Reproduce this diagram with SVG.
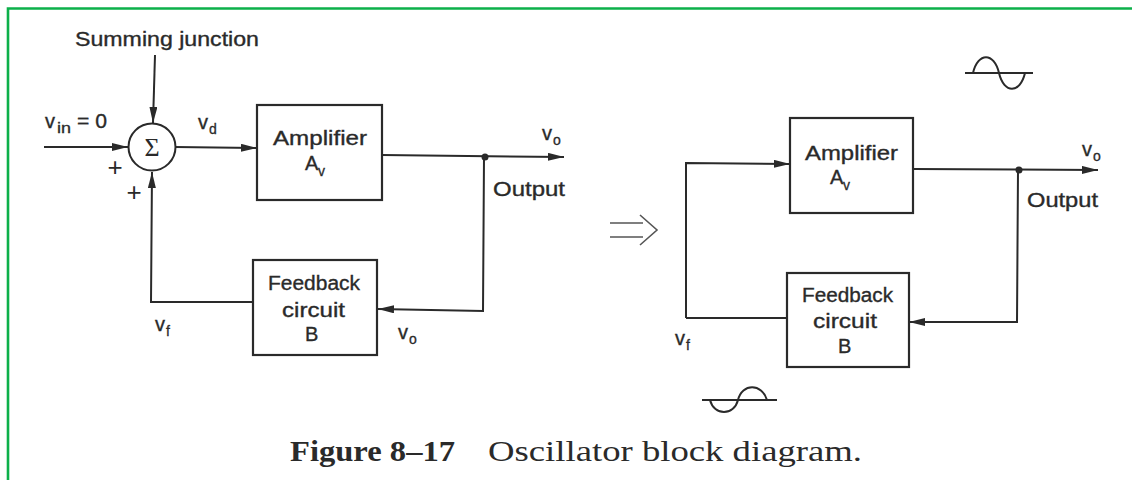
<svg xmlns="http://www.w3.org/2000/svg" width="1132" height="480" viewBox="0 0 1132 480">
<style>
.ln{fill:none;stroke:#2a2a2a;stroke-width:2;}
.bx{fill:none;stroke:#2a2a2a;stroke-width:2.2;}
.t{font-family:"Liberation Sans",Arial,sans-serif;font-size:20px;fill:#2a2a2a;stroke:#2a2a2a;stroke-width:0.35;}
.s{font-family:"Liberation Sans",Arial,sans-serif;font-size:14px;fill:#2a2a2a;stroke:#2a2a2a;stroke-width:0.3;}
.pl{font-family:"Liberation Sans",Arial,sans-serif;font-size:26px;fill:#2a2a2a;}
.cap{font-family:"Liberation Serif","Times New Roman",serif;font-size:30px;fill:#2a2a2a;}
.arw{stroke:#2a2a2a;stroke-width:2;fill:none;marker-end:url(#ah);}
</style>
<defs>
<marker id="ah" viewBox="0 0 16 8" refX="16" refY="4" markerWidth="16" markerHeight="8" markerUnits="userSpaceOnUse" orient="auto">
<path d="M0,0 L16,4 L0,8 Z" fill="#2a2a2a"/>
</marker>
</defs>
<rect x="0" y="0" width="1132" height="480" fill="#ffffff"/>
<path d="M8,480 L8,8.5 L1132,8.5" fill="none" stroke="#0cb04a" stroke-width="2.6"/>

<g id="connectors">
<line class="arw" x1="155" y1="55" x2="153" y2="123"/>
<line class="arw" x1="44" y1="147" x2="128" y2="147"/>
<line class="arw" x1="175" y1="147" x2="257" y2="148"/>
<line class="arw" x1="382" y1="155" x2="564" y2="157"/>
<polyline class="arw" points="484,157 483,311 378,309"/>
<polyline class="arw" points="253,302 151,302 152,172"/>
<polyline class="arw" points="686,318 686,163 790,164"/>
<line class="arw" x1="913" y1="169" x2="1098" y2="170"/>
<polyline class="arw" points="1018,170 1017,322 909,322"/>
<line class="ln" x1="686" y1="318" x2="787" y2="318"/>
</g>

<g id="sum">
<circle cx="152" cy="147" r="23.5" class="ln" stroke-width="2.2"/>
<text x="152" y="156" text-anchor="middle" font-family="Liberation Serif,serif" font-size="26" fill="#2a2a2a">Σ</text>
</g>
<g id="amp1">
<rect class="bx" x="257" y="105" width="125" height="95"/>
<text class="t" x="273" y="145" textLength="94" lengthAdjust="spacingAndGlyphs">Amplifier</text>
<text class="t" x="305" y="170">A</text><text class="s" x="318" y="176">v</text>
</g>
<g id="fb1">
<rect class="bx" x="253" y="260" width="124" height="95"/>
<text class="t" x="268" y="290" textLength="92" lengthAdjust="spacingAndGlyphs">Feedback</text>
<text class="t" x="282" y="317" textLength="63" lengthAdjust="spacingAndGlyphs">circuit</text>
<text class="t" x="305" y="341">B</text>
</g>
<g id="amp2">
<rect class="bx" x="790" y="118" width="123" height="95"/>
<text class="t" x="805" y="160" textLength="93" lengthAdjust="spacingAndGlyphs">Amplifier</text>
<text class="t" x="830" y="184">A</text><text class="s" x="843" y="190">v</text>
</g>
<g id="fb2">
<rect class="bx" x="787" y="273" width="122" height="94"/>
<text class="t" x="802" y="302" textLength="91" lengthAdjust="spacingAndGlyphs">Feedback</text>
<text class="t" x="813" y="328" textLength="64" lengthAdjust="spacingAndGlyphs">circuit</text>
<text class="t" x="838" y="353">B</text>
</g>

<g id="junction-dots">
<circle cx="485" cy="157" r="3.5" fill="#2a2a2a"/>
<circle cx="1019" cy="170" r="3.5" fill="#2a2a2a"/>
</g>

<g id="labels">
<text class="t" x="75" y="46" textLength="184" lengthAdjust="spacingAndGlyphs">Summing junction</text>
<text class="t" x="45" y="128">v</text><text class="s" x="57" y="133" textLength="14" lengthAdjust="spacingAndGlyphs">in</text>
<text class="t" x="77" y="128" textLength="30" lengthAdjust="spacingAndGlyphs">= 0</text>
<text class="t" x="198" y="129">v</text><text class="s" x="209" y="134">d</text>
<text class="pl" x="115" y="176" text-anchor="middle">+</text>
<text class="pl" x="134" y="201" text-anchor="middle">+</text>
<text class="t" x="542" y="140">v</text><text class="s" x="553" y="145">o</text>
<text class="t" x="493" y="196" textLength="72" lengthAdjust="spacingAndGlyphs">Output</text>
<text class="t" x="155" y="331">v</text><text class="s" x="166" y="336">f</text>
<text class="t" x="398" y="339">v</text><text class="s" x="409" y="344">o</text>
<text class="t" x="1082" y="156">v</text><text class="s" x="1093" y="161">o</text>
<text class="t" x="1027" y="207" textLength="71" lengthAdjust="spacingAndGlyphs">Output</text>
<text class="t" x="675" y="345">v</text><text class="s" x="686" y="350">f</text>
</g>

<g id="waves">
<line class="ln" x1="965" y1="73" x2="1033" y2="73"/>
<path class="ln" d="M973,73 C978,52 994,52 999,73 C1004,94 1020,94 1025,73"/>
<line class="ln" x1="702" y1="400" x2="777" y2="400"/>
<path class="ln" d="M710,400 C714,416 734,416 738,400 C742,383 762,383 767,400"/>
</g>

<g id="implies">
<path d="M610,223 L643,223 M610,237 L643,237 M640,215 L657,230 L640,245" fill="none" stroke="#555" stroke-width="1.6"/>
</g>

<g id="caption">
<text class="cap" x="290" y="461" font-weight="bold" textLength="165" lengthAdjust="spacingAndGlyphs">Figure 8–17</text>
<text class="cap" x="488" y="461" textLength="374" lengthAdjust="spacingAndGlyphs">Oscillator block diagram.</text>
</g>
</svg>
